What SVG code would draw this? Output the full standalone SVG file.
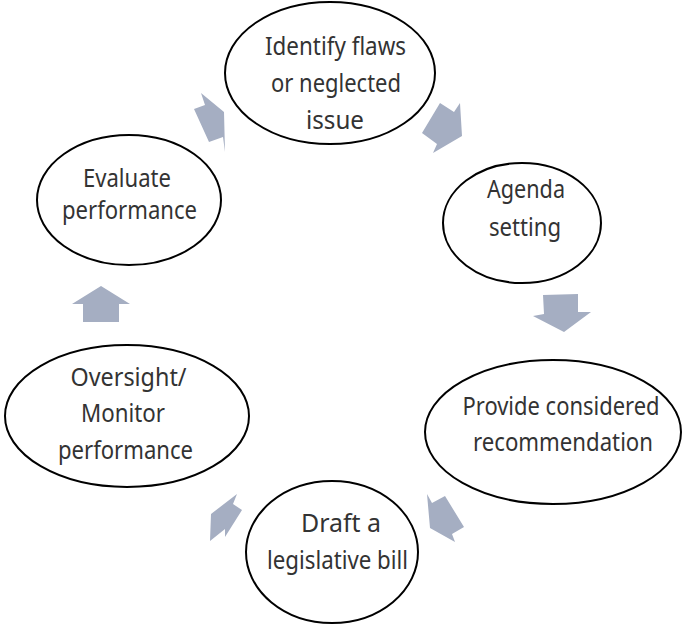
<svg xmlns="http://www.w3.org/2000/svg" width="682" height="625" viewBox="0 0 682 625">
  <style>
    .arrow { fill: #A5AEC2; stroke: none; }
    .node ellipse { fill: #FFFFFF; stroke: #000000; stroke-width: 2; }
    .node text { font-family: "Noto Sans", "Open Sans", "Liberation Sans", sans-serif; font-size: 25px; fill: #333333; text-anchor: middle; }
  </style>
  <rect x="0" y="0" width="682" height="625" fill="#FFFFFF"/>
  <g id="connectors">
    <polygon class="arrow" points="201,93 224,112 225,152 223,137 209,142 194,109 205,105"/>
    <polygon class="arrow" points="440,103 454,112 460,103 462,136 433,153 437,144 422,133"/>
    <polygon class="arrow" points="543,295 578,294 578,312 591,312 564,332 533,316 544,314"/>
    <polygon class="arrow" points="427,494 432,503 445,496 464,527 452,534 455,542 430,528"/>
    <polygon class="arrow" points="237,494 233,504 242,510 225,537 225,529 210,541 211,514"/>
    <polygon class="arrow" points="101,286 130,304 119,304 119,322 83,322 83,304 72,304"/>
  </g>
  <g id="node-identify" class="node">
    <ellipse cx="330" cy="73" rx="105" ry="71"/>
    <text x="335.5" y="55" textLength="141" lengthAdjust="spacingAndGlyphs">Identify flaws</text>
    <text x="336" y="92" textLength="130" lengthAdjust="spacingAndGlyphs">or neglected</text>
    <text x="335" y="129" textLength="58" lengthAdjust="spacingAndGlyphs">issue</text>
  </g>
  <g id="node-agenda" class="node">
    <ellipse cx="522" cy="223" rx="79" ry="60"/>
    <text x="526" y="198" textLength="78" lengthAdjust="spacingAndGlyphs">Agenda</text>
    <text x="525" y="236" textLength="72" lengthAdjust="spacingAndGlyphs">setting</text>
  </g>
  <g id="node-provide" class="node">
    <ellipse cx="553" cy="432" rx="128" ry="72"/>
    <text x="561" y="415" textLength="197" lengthAdjust="spacingAndGlyphs">Provide considered</text>
    <text x="563" y="451" textLength="180" lengthAdjust="spacingAndGlyphs">recommendation</text>
  </g>
  <g id="node-draft" class="node">
    <ellipse cx="332" cy="552" rx="86" ry="71"/>
    <text x="341" y="532" textLength="80" lengthAdjust="spacingAndGlyphs">Draft a</text>
    <text x="337.5" y="569" textLength="141" lengthAdjust="spacingAndGlyphs">legislative bill</text>
  </g>
  <g id="node-oversight" class="node">
    <ellipse cx="127" cy="416" rx="122" ry="71"/>
    <text x="128.5" y="386" textLength="116" lengthAdjust="spacingAndGlyphs">Oversight/</text>
    <text x="123" y="422" textLength="84" lengthAdjust="spacingAndGlyphs">Monitor</text>
    <text x="125.5" y="459" textLength="135" lengthAdjust="spacingAndGlyphs">performance</text>
  </g>
  <g id="node-evaluate" class="node">
    <ellipse cx="129" cy="200" rx="92" ry="65"/>
    <text x="127" y="187" textLength="88" lengthAdjust="spacingAndGlyphs">Evaluate</text>
    <text x="129.5" y="219" textLength="135" lengthAdjust="spacingAndGlyphs">performance</text>
  </g>
</svg>
